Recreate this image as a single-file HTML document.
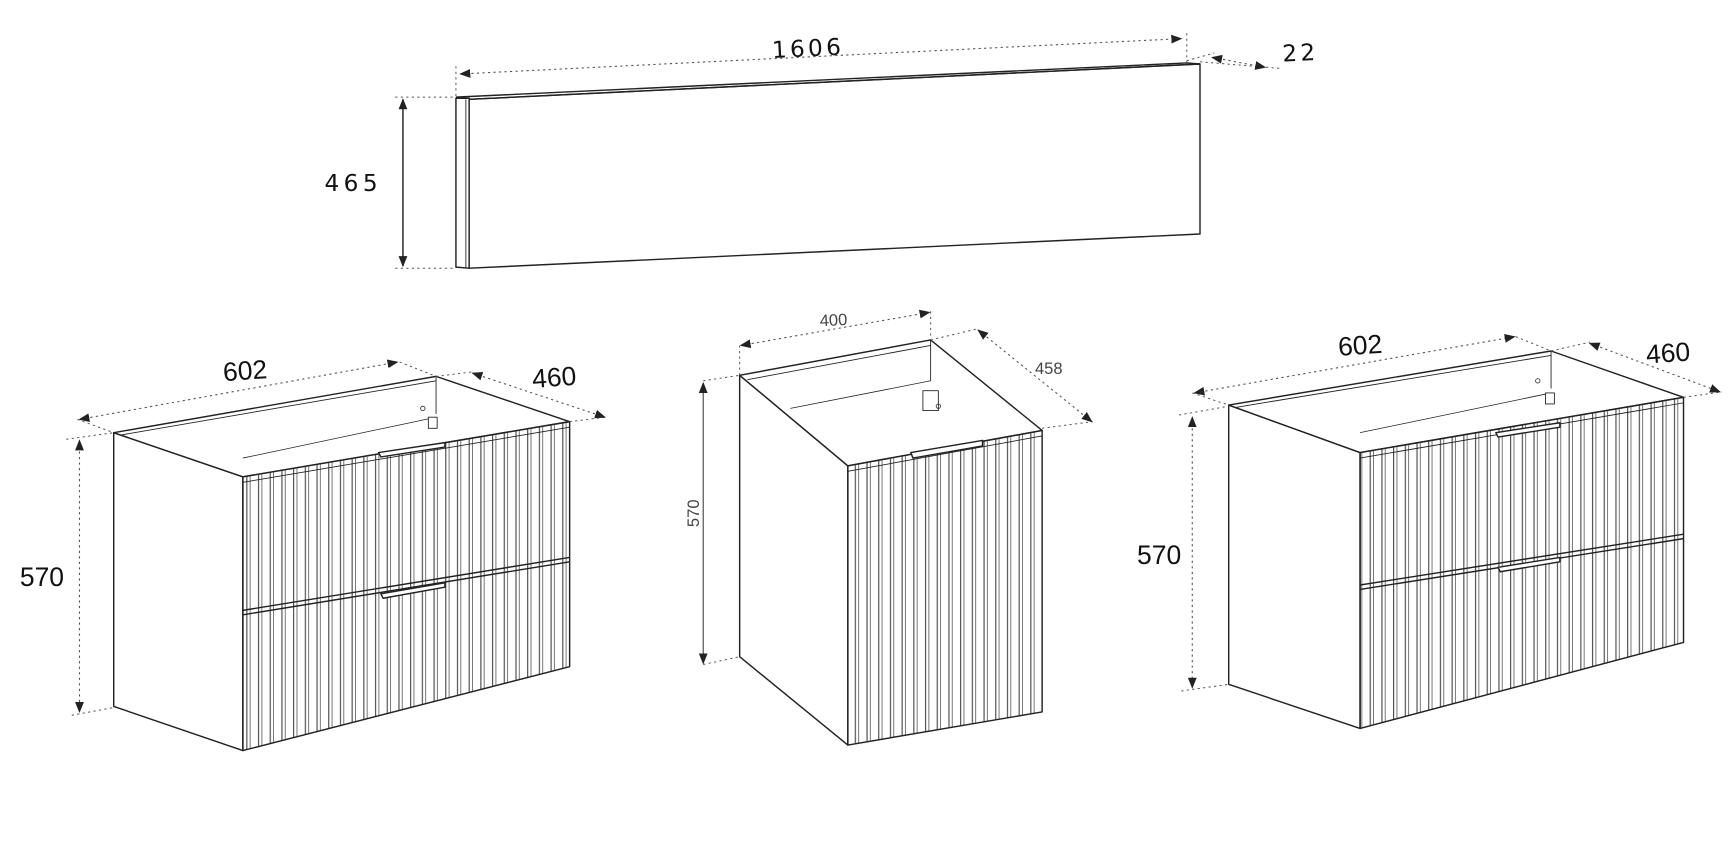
<!DOCTYPE html>
<html><head><meta charset="utf-8"><style>
html,body{margin:0;padding:0;background:#fff;width:1731px;height:851px;overflow:hidden}
svg{display:block}
</style></head><body>
<svg width="1731" height="851" viewBox="0 0 1568 771" preserveAspectRatio="none" xmlns="http://www.w3.org/2000/svg">
<defs>
<marker id="a" viewBox="0 0 10 10" refX="9" refY="5" markerWidth="10" markerHeight="10" orient="auto-start-reverse" markerUnits="userSpaceOnUse"><path d="M0,1 L10,5 L0,9 z" fill="#222"/></marker>
<pattern id="fl" patternUnits="userSpaceOnUse" width="10.6" height="20"><line x1="1" y1="0" x2="1" y2="20" stroke="#444" stroke-width="1"/><line x1="4" y1="0" x2="4" y2="20" stroke="#666" stroke-width="0.8"/></pattern>
</defs>
<g fill="none" stroke="#222" stroke-width="1.3" stroke-linejoin="round">

<!-- MIRROR -->
<polygon points="413,89 425,89 425,243 413,242" fill="#fff"/>
<polygon points="425,90 1087,58 1087,212 425,243" fill="#fff"/>
<polyline points="413,88 1075,57 1087,58"/>
<line x1="425" y1="90" x2="1087" y2="58"/>
<line x1="422" y1="90" x2="422" y2="243" stroke-width="0.8"/>
<g stroke="#555" stroke-dasharray="2,3" stroke-width="0.9">
<line x1="413" y1="60" x2="413" y2="88"/><line x1="1075" y1="30" x2="1075" y2="57"/>
<line x1="358" y1="88" x2="413" y2="88"/><line x1="358" y1="243" x2="413" y2="243"/>
<line x1="1087" y1="56" x2="1160" y2="62"/><line x1="1075" y1="55" x2="1100" y2="48"/>
</g>
<line x1="417" y1="67" x2="1070" y2="35" stroke="#555" stroke-width="1" stroke-dasharray="2,3" marker-start="url(#a)" marker-end="url(#a)"/>
<line x1="1098" y1="52" x2="1146" y2="61" stroke="#555" stroke-width="1" stroke-dasharray="2,3" marker-start="url(#a)" marker-end="url(#a)"/>
<line x1="365" y1="90" x2="365" y2="241" stroke="#222" marker-start="url(#a)" marker-end="url(#a)"/>

<!-- LEFT CABINET -->
<polygon points="103,392 220,432 220,680 103,640" fill="#fff"/>
<polygon points="103,392 395,341 516,382 220,432" fill="#fff"/>
<line x1="110" y1="394" x2="395" y2="345" stroke-width="0.8"/>
<polyline points="395,341 395,375" stroke-width="0.8"/>
<line x1="220" y1="415" x2="395" y2="378" stroke-width="0.7"/>
<polygon points="220,432 516,382 516,604 220,680" fill="url(#fl)"/>
<line x1="220" y1="437" x2="516" y2="387" stroke-width="0.8"/>
<line x1="220" y1="553" x2="516" y2="505"/><line x1="220" y1="557" x2="516" y2="509"/>
<polygon points="343,410 403,401 403,405 345,414" fill="#fff"/>
<polygon points="345,538 403,528 403,532 347,542" fill="#fff"/>
<rect x="388" y="378" width="8" height="10" fill="#fff" stroke-width="0.8"/>
<circle cx="383" cy="370" r="2" stroke-width="0.7"/>
<g stroke="#555" stroke-dasharray="2,3" stroke-width="0.9">
<line x1="70" y1="380" x2="103" y2="392"/><line x1="362" y1="328" x2="395" y2="341"/>
<line x1="395" y1="341" x2="427" y2="337"/><line x1="516" y1="382" x2="548" y2="378"/>
<line x1="60" y1="398" x2="103" y2="392"/><line x1="65" y1="648" x2="103" y2="641"/>
</g>
<line x1="72" y1="380" x2="360" y2="328" stroke="#555" stroke-width="1" stroke-dasharray="2,3" marker-start="url(#a)" marker-end="url(#a)"/>
<line x1="428" y1="338" x2="548" y2="378" stroke="#555" stroke-width="1" stroke-dasharray="2,3" marker-start="url(#a)" marker-end="url(#a)"/>
<line x1="72" y1="399" x2="72" y2="645" stroke="#555" stroke-width="1" stroke-dasharray="2,3" marker-start="url(#a)" marker-end="url(#a)"/>

<!-- MIDDLE CABINET -->
<polygon points="670,340 768,422 768,675 670,595" fill="#fff"/>
<polygon points="670,340 843,308 944,390 768,422" fill="#fff"/>
<line x1="677" y1="344" x2="843" y2="313" stroke-width="0.8"/>
<line x1="716" y1="370" x2="843" y2="345" stroke-width="0.7"/>
<line x1="843" y1="308" x2="843" y2="345" stroke-width="0.8"/>
<rect x="836" y="354" width="14" height="18" fill="#fff" stroke-width="0.8"/>
<circle cx="850" cy="368" r="2" stroke-width="0.7"/>
<polygon points="768,422 944,390 944,645 768,675" fill="url(#fl)"/>
<line x1="768" y1="427" x2="944" y2="395" stroke-width="0.8"/>
<polygon points="825,410 890,399 890,404 827,415" fill="#fff"/>
<g stroke="#555" stroke-dasharray="2,3" stroke-width="0.9">
<line x1="670" y1="313" x2="670" y2="340"/><line x1="843" y1="282" x2="843" y2="308"/>
<line x1="843" y1="308" x2="885" y2="298"/><line x1="944" y1="388" x2="990" y2="382"/>
<line x1="637" y1="345" x2="670" y2="340"/><line x1="637" y1="602" x2="670" y2="595"/>
</g>
<line x1="671" y1="313" x2="842" y2="283" stroke="#555" stroke-width="1" stroke-dasharray="2,3" marker-start="url(#a)" marker-end="url(#a)"/>
<line x1="886" y1="299" x2="989" y2="382" stroke="#555" stroke-width="1" stroke-dasharray="2,3" marker-start="url(#a)" marker-end="url(#a)"/>
<line x1="637" y1="347" x2="637" y2="601" stroke="#444" stroke-width="1" marker-start="url(#a)" marker-end="url(#a)"/>

<!-- RIGHT CABINET -->
<polygon points="1113,367 1232,410 1232,660 1113,620" fill="#fff"/>
<polygon points="1113,367 1405,318 1525,360 1232,410" fill="#fff"/>
<line x1="1120" y1="369" x2="1405" y2="322" stroke-width="0.8"/>
<line x1="1405" y1="318" x2="1405" y2="352" stroke-width="0.8"/>
<line x1="1232" y1="392" x2="1405" y2="356" stroke-width="0.7"/>
<rect x="1400" y="356" width="8" height="10" fill="#fff" stroke-width="0.8"/>
<circle cx="1393" cy="345" r="2" stroke-width="0.7"/>
<polygon points="1232,410 1525,360 1525,582 1232,660" fill="url(#fl)"/>
<line x1="1232" y1="415" x2="1525" y2="365" stroke-width="0.8"/>
<line x1="1232" y1="530" x2="1525" y2="484"/><line x1="1232" y1="534" x2="1525" y2="488"/>
<polygon points="1355,392 1413,383 1413,387 1357,396" fill="#fff"/>
<polygon points="1357,514 1413,505 1413,509 1359,518" fill="#fff"/>
<g stroke="#555" stroke-dasharray="2,3" stroke-width="0.9">
<line x1="1080" y1="356" x2="1113" y2="367"/><line x1="1373" y1="305" x2="1405" y2="318"/>
<line x1="1405" y1="318" x2="1440" y2="310"/><line x1="1525" y1="360" x2="1560" y2="355"/>
<line x1="1068" y1="376" x2="1113" y2="368"/><line x1="1070" y1="626" x2="1113" y2="620"/>
</g>
<line x1="1082" y1="356" x2="1372" y2="305" stroke="#555" stroke-width="1" stroke-dasharray="2,3" marker-start="url(#a)" marker-end="url(#a)"/>
<line x1="1440" y1="311" x2="1558" y2="355" stroke="#555" stroke-width="1" stroke-dasharray="2,3" marker-start="url(#a)" marker-end="url(#a)"/>
<line x1="1080" y1="378" x2="1080" y2="623" stroke="#555" stroke-width="1" stroke-dasharray="2,3" marker-start="url(#a)" marker-end="url(#a)"/>
</g>

<g fill="#111" font-family="'DejaVu Sans', 'Liberation Sans', sans-serif">
<text x="732" y="51" font-size="21" letter-spacing="3" text-anchor="middle" transform="rotate(-2.8 732 45)">1606</text>
<text x="1178" y="55" font-size="21" letter-spacing="3" text-anchor="middle" transform="rotate(-3 1178 50)">22</text>
<text x="320" y="173" font-size="21" letter-spacing="4" text-anchor="middle">465</text>
</g>
<g fill="#111" font-family="'Liberation Sans', sans-serif" font-size="24">
<text x="222" y="344" text-anchor="middle" transform="rotate(-4 222 336)">602</text>
<text x="502" y="350" text-anchor="middle" transform="rotate(-4 502 342)">460</text>
<text x="38" y="531" text-anchor="middle">570</text>
<text x="1232" y="321" text-anchor="middle" transform="rotate(-4 1232 312)">602</text>
<text x="1511" y="328" text-anchor="middle" transform="rotate(-4 1511 320)">460</text>
<text x="1050" y="511" text-anchor="middle">570</text>
</g>
<g fill="#444" font-family="'Liberation Sans', sans-serif" font-size="15">
<text x="755" y="295" text-anchor="middle" transform="rotate(-3 755 290)">400</text>
<text x="950" y="339" text-anchor="middle">458</text>
<text x="633" y="465" text-anchor="middle" transform="rotate(-90 633 465)">570</text>
</g>
</svg>
</body></html>
